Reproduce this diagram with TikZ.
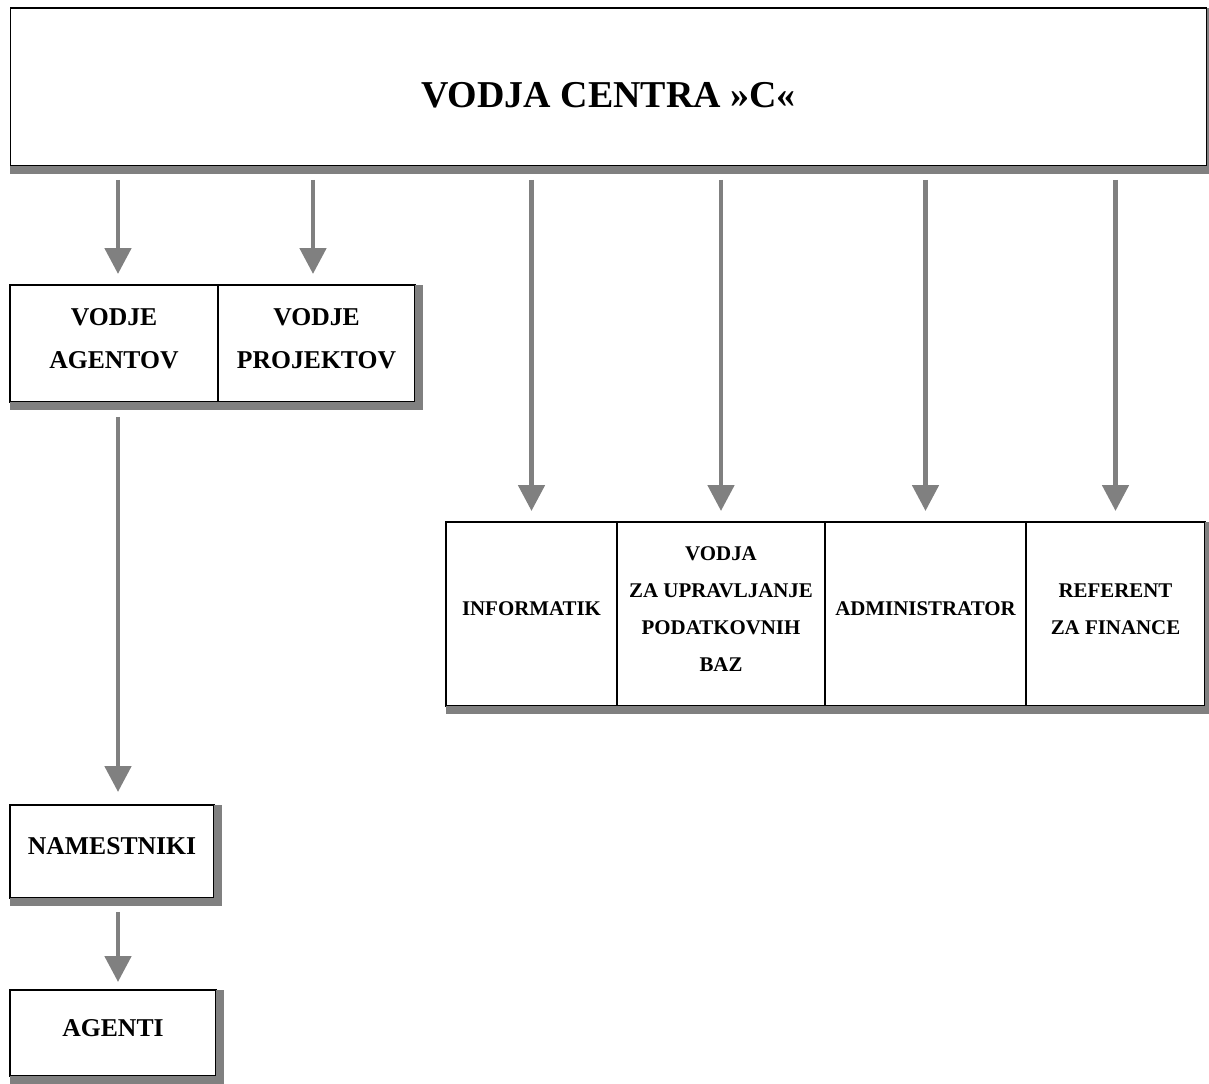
\documentclass[tikz,border=0pt]{standalone}
\usepackage{fontspec}
\setmainfont{Liberation Serif}
\usetikzlibrary{arrows.meta}

\definecolor{shadowgray}{HTML}{808080}

\begin{document}
\begin{tikzpicture}[x=0.02cm, y=-0.02cm,
    box/.style={draw, line width=0.6pt, inner sep=0pt, outer sep=0pt, align=center,
      text depth=5.7pt, font=\bfseries\fontsize{14.6}{24.5}\selectfont},
    smallbox/.style={box, minimum height=3.68cm, font=\bfseries\fontsize{11.9}{21}\selectfont},
    link/.style={draw=shadowgray, line width=2.8pt,
      -{Triangle[width=14.8pt, length=14.8pt]}, shorten <=0.28cm, shorten >=0.22cm}]

        \useasboundingbox (0,0) rectangle (1209,1084);

        \node[box, minimum width=23.94cm, minimum height=3.16cm, text height=23.7pt, text depth=0pt,
          font=\bfseries\fontsize{21.6}{25}\selectfont] (centre) at (608.5,87) {VODJA CENTRA »C«};

        \node[box, minimum width=4.16cm, minimum height=2.34cm] (agentov) at (114,343.5) {VODJE\\AGENTOV};
        \node[box, minimum width=3.94cm, minimum height=2.34cm] (projektov) at (316.5,343.5) {VODJE\\PROJEKTOV};

        \node[box, minimum width=4.08cm, minimum height=1.86cm] (namestniki) at (112,851.5) {NAMESTNIKI};
        \node[box, minimum width=4.12cm, minimum height=1.72cm] (agenti) at (113,1033) {AGENTI};

        \node[smallbox, minimum width=3.42cm] (informatik) at (531.5,614) {INFORMATIK};
        \node[smallbox, minimum width=4.16cm] (baze) at (721,614) {VODJA\\ZA UPRAVLJANJE\\PODATKOVNIH\\BAZ};
        \node[smallbox, minimum width=4.02cm] (admin) at (925.5,614) {ADMINISTRATOR};
        \node[smallbox, minimum width=3.58cm] (finance) at (1115.5,614) {REFERENT\\ZA FINANCE};

        \foreach \a/\b in {centre/centre, agentov/projektov, namestniki/namestniki, agenti/agenti, informatik/finance} {
          \fill[shadowgray] (\a.south west) rectangle ([xshift=0.17cm, yshift=-0.17cm]\b.south east);
          \fill[shadowgray] (\b.north east) rectangle ([xshift=0.17cm]\b.south east);
        }

        \foreach \n/\dx in {agentov/0.08, projektov/-0.07, informatik/0, baze/0, admin/0, finance/0} {
          \draw[link] ([xshift=\dx cm]\n.north |- centre.south) -- ([xshift=\dx cm]\n.north);
        }

        \draw[link, shorten <=0.3cm, shorten >=0.26cm] ([xshift=0.08cm]agentov.south) -- ([xshift=0.08cm]agentov.south |- namestniki.north);
        \draw[link, shorten >=0.16cm] ([xshift=0.12cm]namestniki.south) -- ([xshift=0.12cm]namestniki.south |- agenti.north);

      \end{tikzpicture}
\end{document}
